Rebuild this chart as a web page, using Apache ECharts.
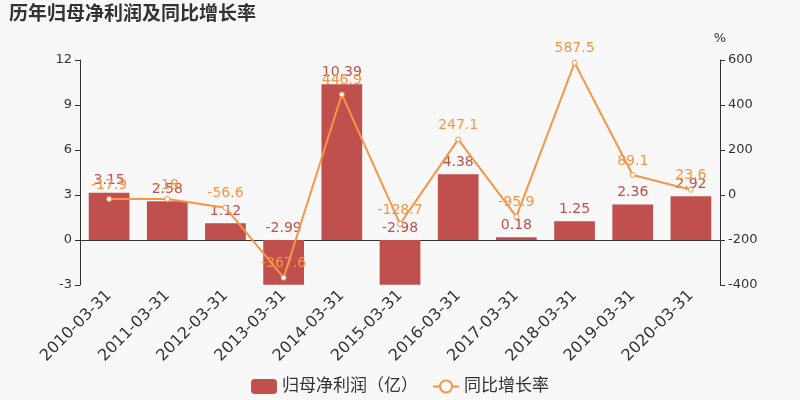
<!DOCTYPE html>
<html><head><meta charset="utf-8">
<script src="https://cdn.jsdelivr.net/npm/echarts@6/dist/echarts.min.js"></script>
<style>html,body{margin:0;padding:0;background:#f8f8f8;}#c{width:800px;height:400px;}</style>
</head><body><div id="c"></div>
<script>
var categories = ['2010-03-31','2011-03-31','2012-03-31','2013-03-31','2014-03-31','2015-03-31','2016-03-31','2017-03-31','2018-03-31','2019-03-31','2020-03-31'];
var profit = [3.15, 2.58, 1.12, -2.99, 10.39, -2.98, 4.38, 0.18, 1.25, 2.36, 2.92];
var growth = [-17.9, -18, -56.6, -367.6, 446.9, -128.7, 247.1, -95.9, 587.5, 89.1, 23.6];
var chart = echarts.init(document.getElementById('c'));
var font = '"DejaVu Sans","Noto Sans CJK SC",sans-serif';
chart.setOption({
  backgroundColor: '#f8f8f8',
  textStyle: {fontFamily: font},
  title: {text: '历年归母净利润及同比增长率', left: 4, top: 1, textStyle: {fontSize: 19, fontWeight: 'bold', color: '#333', fontFamily: font}},
  legend: {bottom: 0, left: 'center', itemWidth: 26, itemHeight: 15, itemGap: 14, textStyle: {fontSize: 17, color: '#333'},
    data: [{name: '归母净利润（亿）'}, {name: '同比增长率'}]},
  grid: {left: 80, right: 80, top: 60, bottom: 115},
  xAxis: {type: 'category', data: categories,
    axisLine: {lineStyle: {color: '#333'}}, axisTick: {lineStyle: {color: '#333'}},
    axisLabel: {rotate: 45, fontSize: 16, color: '#333', interval: 0}},
  yAxis: [
    {type: 'value', min: -3, max: 12, interval: 3, splitLine: {show: false},
     axisLine: {show: true, lineStyle: {color: '#333'}}, axisTick: {show: true},
     axisLabel: {fontSize: 13, color: '#333'}},
    {type: 'value', min: -400, max: 600, interval: 200, name: '%', nameTextStyle: {fontSize: 13, color: '#333'}, splitLine: {show: false},
     axisLine: {show: true, lineStyle: {color: '#333'}}, axisTick: {show: true},
     axisLabel: {fontSize: 13, color: '#333'}}
  ],
  series: [
    {name: '归母净利润（亿）', type: 'bar', data: profit, barWidth: '70%',
     itemStyle: {color: '#c0504d'},
     label: {show: true, position: 'top', color: '#c0504d', fontSize: 14}},
    {name: '同比增长率', type: 'line', yAxisIndex: 1, data: growth,
     symbol: 'circle', symbolSize: 5, lineStyle: {color: '#f79646', width: 2},
     itemStyle: {color: '#fff', borderColor: '#f79646', borderWidth: 1},
     label: {show: true, position: 'top', color: '#f79646', fontSize: 14, distance: 4}}
  ]
});
</script></body></html>
